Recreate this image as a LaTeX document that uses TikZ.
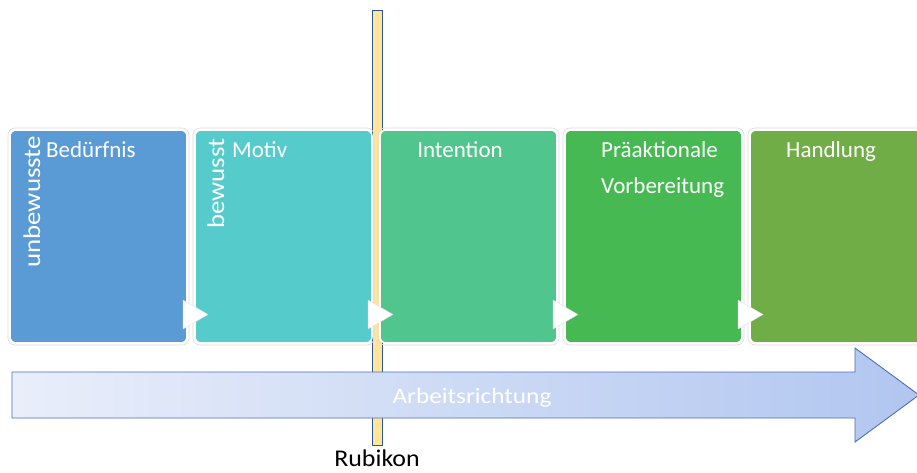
\documentclass[tikz,border=0pt]{standalone}
\usepackage{fontspec}
\setmainfont{Carlito}
\definecolor{cA}{HTML}{5B9BD5}
\definecolor{cB}{HTML}{55CBCC}
\definecolor{cC}{HTML}{50C68E}
\definecolor{cD}{HTML}{47B952}
\definecolor{cE}{HTML}{70AD47}
\definecolor{barfill}{HTML}{FFE699}
\definecolor{barline}{HTML}{2F5597}
\definecolor{arrL}{HTML}{E9EEFA}
\definecolor{arrR}{HTML}{B1C6F0}
\definecolor{arrline}{HTML}{4A6FB8}
\begin{document}
\begin{tikzpicture}[x=1pt,y=-1pt,
  stage/.style={draw=white,line width=1.6pt,rounded corners=6pt,minimum width=177pt,minimum height=213pt,inner sep=0pt},
  halo/.style={draw=black!15,line width=0.6pt,rounded corners=7pt,minimum width=181pt,minimum height=217pt,inner sep=0pt},
  lbl/.style={text=white,font=\fontsize{23}{26}\selectfont,inner sep=0pt},
  vlbl/.style={text=white,font=\fontsize{24}{26}\selectfont,inner sep=0pt,rotate=90}]
\useasboundingbox (0,0) rectangle (917,472);
% Rubikon bar
\node[fill=barfill,draw=barline,line width=0.9pt,minimum width=10pt,minimum height=435pt,inner sep=0pt] (bar) at (377,227.5) {};
% stages
\foreach \i/\x in {1/98.5,2/283.5,3/468.5,4/653.5,5/838.5}{
  \node[halo] (h\i) at (\x,236.5) {};
}
\node[stage,fill=cA] (s1) at (98.5,236.5) {};
\node[stage,fill=cB] (s2) at (283.5,236.5) {};
\node[stage,fill=cC] (s3) at (468.5,236.5) {};
\node[stage,fill=cD] (s4) at (653.5,236.5) {};
\node[stage,fill=cE] (s5) at (838.5,236.5) {};
% white triangles
\foreach \i/\x in {1/183,2/368,3/553,4/738}{
  \filldraw[fill=white,draw=black!12,line width=0.4pt] (\x,300) -- (\x+25,314.5) -- (\x,329) -- cycle;
}
% texts
\node[lbl,anchor=base west] (t1) at (46,157) {Bedürfnis};
\node[vlbl,anchor=base west] (v1) at (40,268) {\scalebox{1.12}[1]{unbewusste}};
\node[lbl,anchor=base west] (t2) at (232,157) {Motiv};
\node[vlbl,anchor=base west] (v2) at (224,229) {\scalebox{1.12}[1]{bewusst}};
\node[lbl,anchor=base] (t3) at (460,157) {Intention};
\node[lbl,anchor=base west] (t4) at (601,157) {Präaktionale};
\node[lbl,anchor=base west] (t4b) at (601,193) {Vorbereitung};
\node[lbl,anchor=base west] (t5) at (786,157) {Handlung};
% arrow
\path[draw=arrline,line width=0.9pt,left color=arrL,right color=arrR]
  (12,372) -- (855,372) -- (855,348) -- (919,395) -- (855,442) -- (855,418) -- (12,418) -- cycle;
\node[text=white,font=\fontsize{22}{26}\selectfont,inner sep=0pt,anchor=base] (arb) at (472,403) {\scalebox{1.15}[1]{Arbeitsrichtung}};
\node[font=\fontsize{24}{28}\selectfont,inner sep=0pt,anchor=base] (rub) at (377,466) {\scalebox{1.08}[1]{Rubikon}};
\end{tikzpicture}
\end{document}
